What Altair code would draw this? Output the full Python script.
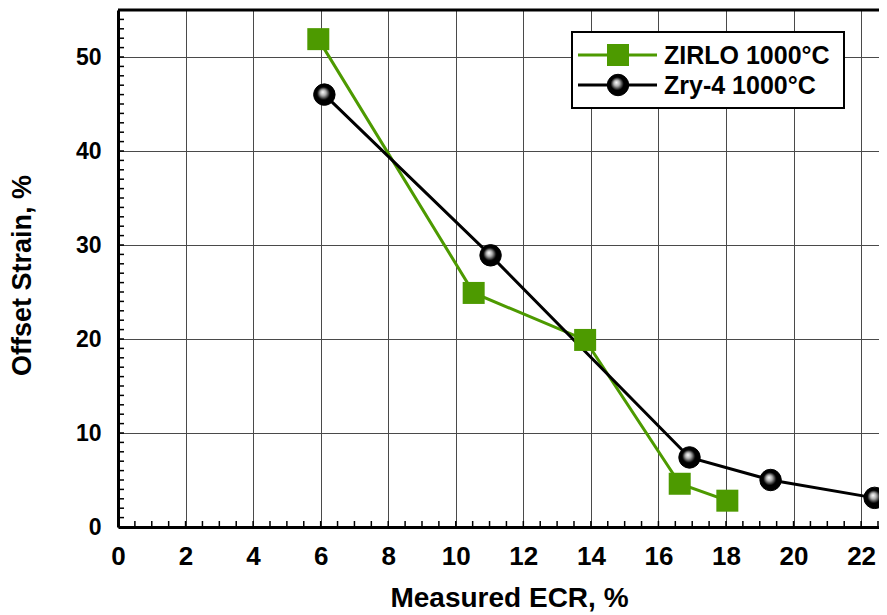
import altair as alt
import pandas as pd

# ---- data ----
series = ["ZIRLO 1000°C", "Zry-4 1000°C"]
colors = ["#4D9A00", "#000000"]

zirlo_ecr = [5.93, 10.53, 13.83, 16.63, 18.04]
zirlo_strain = [51.9, 24.9, 19.9, 4.6, 2.8]

zry_ecr = [6.11, 11.03, 16.92, 19.32, 22.40]
zry_strain = [46.0, 28.9, 7.4, 5.0, 3.1]

x_ticks = [0, 2, 4, 6, 8, 10, 12, 14, 16, 18, 20, 22]
y_ticks = [0, 10, 20, 30, 40, 50]
x_minor = [i * 0.5 for i in range(1, 46)]
y_minor = list(range(1, 55))

W, H = 761, 517
FONT = "Liberation Sans"

df = pd.DataFrame({
    "series": [series[0]] * len(zirlo_ecr) + [series[1]] * len(zry_ecr),
    "ecr": zirlo_ecr + zry_ecr,
    "strain": zirlo_strain + zry_strain,
})
xm_df = pd.DataFrame({"v": x_minor})
ym_df = pd.DataFrame({"v": y_minor})
leg_df = pd.DataFrame({"label": series})

xs = alt.Scale(domain=[0, 22.53], nice=False, zero=False)
ys = alt.Scale(domain=[0, 55], nice=False, zero=False)

xaxis = alt.Axis(
    values=x_ticks, grid=True, gridColor="#4a4a4a", gridWidth=1, ticks=False,
    domain=True, domainColor="black", domainWidth=3,
    labelFont=FONT, labelFontWeight="bold", labelFontSize=26, labelColor="black",
    labelPadding=16, labelFlush=False, labelOverlap=False,
    title="Measured ECR, %", titleFont=FONT, titleFontSize=28, titleFontWeight="bold",
    titleColor="black", titleX=391, titleY=71, titleBaseline="middle",
)
yaxis = alt.Axis(
    values=y_ticks, grid=True, gridColor="#4a4a4a", gridWidth=1, ticks=False,
    domain=True, domainColor="black", domainWidth=3,
    labelFont=FONT, labelFontWeight="bold", labelFontSize=23, labelColor="black",
    labelPadding=17, labelFlush=False, labelOverlap=False,
    title="Offset Strain, %", titleFont=FONT, titleFontSize=27, titleFontWeight="bold",
    titleColor="black", titleX=-96, titleY=265, titleBaseline="middle",
)

def X(f):
    return alt.X(f, type="quantitative", scale=xs, axis=xaxis)

def Y(f):
    return alt.Y(f, type="quantitative", scale=ys, axis=yaxis)

color = alt.Color("series:N", scale=alt.Scale(domain=series, range=colors), legend=None)

lines = alt.Chart(df).mark_line(strokeWidth=3).encode(
    x=X("ecr"), y=Y("strain"), color=color, detail="series:N"
)

squares = alt.Chart(df).transform_filter(
    alt.datum.series == series[0]
).mark_point(shape="square", filled=True, size=484, color=colors[0], opacity=1).encode(
    x=X("ecr"), y=Y("strain")
)

sphere = alt.RadialGradient(
    gradient="radial",
    stops=[
        alt.GradientStop(offset=0, color="#ffffff"),
        alt.GradientStop(offset=0.25, color="#b0b0b0"),
        alt.GradientStop(offset=0.55, color="#000000"),
        alt.GradientStop(offset=1, color="#000000"),
    ],
    x1=0.42, y1=0.38, r1=0, x2=0.5, y2=0.5, r2=0.55,
)

circles = alt.Chart(df).transform_filter(
    alt.datum.series == series[1]
).mark_point(shape="circle", filled=True, size=460, fill=sphere, stroke="black",
             strokeWidth=1, opacity=1).encode(
    x=X("ecr"), y=Y("strain")
)

xminor = alt.Chart(xm_df).mark_rule(color="black", strokeWidth=1.5).encode(
    x=X("v"), y=alt.value(H), y2=alt.value(H - 6)
)
yminor = alt.Chart(ym_df).mark_rule(color="black", strokeWidth=1.5).encode(
    y=Y("v"), x=alt.value(0), x2=alt.value(6)
)

topline = alt.Chart(leg_df.head(1)).mark_rule(color="black", strokeWidth=3).encode(
    x=alt.value(0), x2=alt.value(W), y=alt.value(0)
)

# legend (drawn by hand to show line + marker)
box = alt.Chart(leg_df.head(1)).mark_rect(fill="white", stroke="black", strokeWidth=2).encode(
    x=alt.value(454), x2=alt.value(726), y=alt.value(22), y2=alt.value(98)
)
leg_layers = [box]
rows_y = [45, 75]
for i, name in enumerate(series):
    d = leg_df[leg_df["label"] == name]
    leg_layers.append(alt.Chart(d).mark_rule(color=colors[i], strokeWidth=3).encode(
        x=alt.value(460), x2=alt.value(539), y=alt.value(rows_y[i])))
    if i == 0:
        leg_layers.append(alt.Chart(d).mark_point(shape="square", filled=True, size=484,
                                                   color=colors[0], opacity=1).encode(
            x=alt.value(500), y=alt.value(rows_y[i])))
    else:
        leg_layers.append(alt.Chart(d).mark_point(shape="circle", filled=True, size=460,
                                                   fill=sphere, stroke="black", strokeWidth=1,
                                                   opacity=1).encode(
            x=alt.value(500), y=alt.value(rows_y[i])))
    leg_layers.append(alt.Chart(d).mark_text(align="left", baseline="middle", font=FONT,
                                             fontSize=25, fontWeight="bold", color="black").encode(
        x=alt.value(546), y=alt.value(rows_y[i] + 1), text="label:N"))

chart = alt.layer(
    xminor, yminor, lines, squares, circles, topline, *leg_layers
).properties(
    width=W, height=H,
    autosize=alt.AutoSizeParams(type="none"),
    padding={"left": 110, "top": 2, "right": 0, "bottom": 88},
    background="white",
).configure_view(stroke=None)

chart.save("out.html", embed_options={"renderer": "svg", "actions": False})
